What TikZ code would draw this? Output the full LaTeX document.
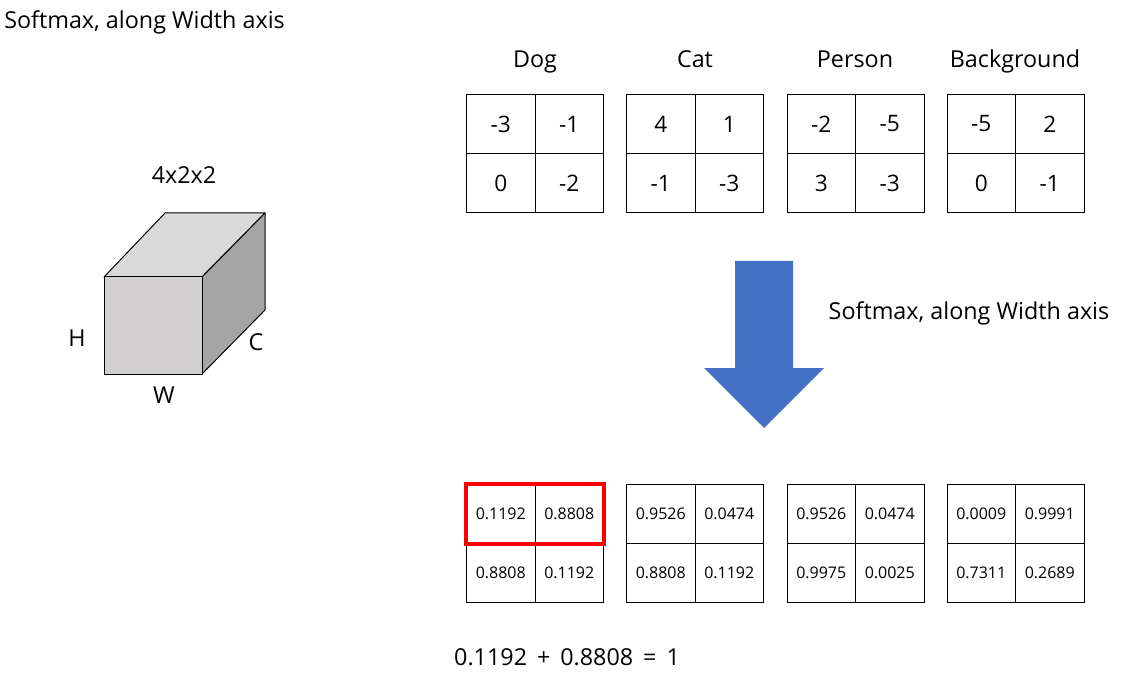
\documentclass[tikz,border=0pt]{standalone}
\usepackage{fontspec}
\setmainfont{Open Sans}
\definecolor{arrowblue}{HTML}{4472C4}
\definecolor{frontgray}{HTML}{D0CECE}
\definecolor{topgray}{HTML}{D9D9D9}
\definecolor{sidegray}{HTML}{A5A5A5}
\newcommand{\mkgrid}[8]{%
  \node[cellbox,#8] (#1a) at (#2,#3) {#4};
  \node[cellbox,#8] (#1b) at (#2+68.5,#3) {#5};
  \node[cellbox,#8] (#1c) at (#2,#3+59) {#6};
  \node[cellbox,#8] (#1d) at (#2+68.5,#3+59) {#7};
}
\begin{document}
\begin{tikzpicture}[x=0.75pt,y=-0.75pt,
  cellbox/.style={draw=black, line width=0.75pt, anchor=north west, minimum width=51.375pt, minimum height=44.25pt, inner sep=0pt, font=\fontsize{17}{19}\selectfont},
  smallcell/.style={font=\fontsize{12}{14}\selectfont},
  lbl/.style={font=\fontsize{17.5}{20}\selectfont, inner sep=0pt, text height=0.75em, text depth=0.25em},
  face/.style={draw=black, line width=0.75pt, line join=round}]
\useasboundingbox (0,0) rectangle (1133,681);

% title
\node[lbl, anchor=west] (title) at (4,25) {Softmax, along Width axis};

% cube
\path[face, fill=topgray] (104,277) -- (165,213) -- (265,213) -- (202,277) -- cycle;
\path[face, fill=sidegray] (202,277) -- (265,213) -- (265,310) -- (202,374) -- cycle;
\path[face, fill=frontgray] (104,277) rectangle (202,374);
\node[lbl] (dims) at (184,180) {4x2x2};
\node[lbl] (hlab) at (77,343) {H};
\node[lbl] (clab) at (256,347) {C};
\node[lbl] (wlab) at (164,400) {W};

% class labels
\node[lbl] (dog) at (535,64) {Dog};
\node[lbl] (cat) at (695,64) {Cat};
\node[lbl] (person) at (855,64) {Person};
\node[lbl] (bg) at (1015,64) {Background};

% input grids
\mkgrid{dogin}{466}{94}{-3}{-1}{0}{-2}{}
\mkgrid{catin}{626}{94}{4}{1}{-1}{-3}{}
\mkgrid{perin}{786.5}{94}{-2}{-5}{3}{-3}{}
\mkgrid{bgin}{946.5}{94}{-5}{2}{0}{-1}{}

% arrow
\fill[arrowblue] (735,261) -- (793,261) -- (793,368) -- (824,368) -- (764,428) -- (704,368) -- (735,368) -- cycle;
\node[lbl] (smlab) at (969,316) {Softmax, along Width axis};

% output grids
\mkgrid{dogout}{466}{484}{0.1192}{0.8808}{0.8808}{0.1192}{smallcell}
\mkgrid{catout}{626}{484}{0.9526}{0.0474}{0.8808}{0.1192}{smallcell}
\mkgrid{perout}{786.5}{484}{0.9526}{0.0474}{0.9975}{0.0025}{smallcell}
\mkgrid{bgout}{946.5}{484}{0.0009}{0.9991}{0.7311}{0.2689}{smallcell}
\draw[red, line width=2.4pt] (dogouta.north west) rectangle (dogoutb.south east);

\node[lbl] (eq) at (567,662) {0.1192 \,+\, 0.8808 \,=\, 1};
\end{tikzpicture}
\end{document}
